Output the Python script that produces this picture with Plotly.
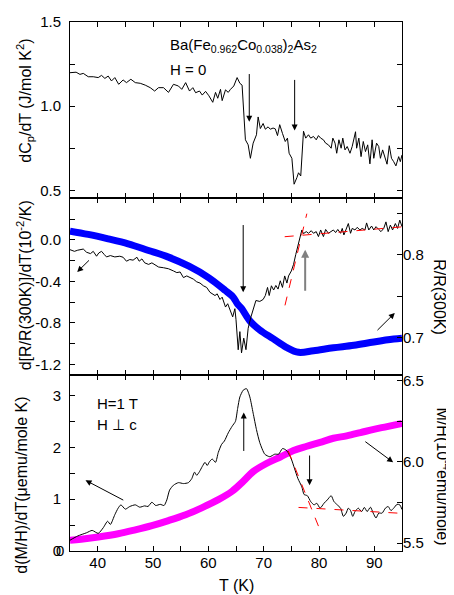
import plotly.graph_objects as go

# ─── data ────────────────────────────────────────────────────────────────────
# top panel: dCp/dT, H = 0
cp_T = [35.0, 36.1, 36.8, 37.4, 38.3, 39.2, 40.1, 40.7, 41.3, 41.9,
        42.5, 43.1, 43.8, 44.6, 45.2, 46.0, 46.8, 47.7, 48.6, 49.5,
        50.3, 51.0, 51.9, 52.8, 53.7, 54.6, 55.2, 55.9, 56.6, 57.2,
        57.7, 58.4, 58.9, 59.5, 60.1, 60.8, 61.3, 61.7, 62.2, 62.5,
        63.1, 63.6, 64.0, 64.6, 65.2, 65.7, 66.1, 66.7, 67.2, 67.6,
        68.1, 68.7, 69.0, 69.4, 69.9, 70.3, 70.8, 71.2, 71.7, 72.1,
        72.5, 72.9, 73.4, 73.9, 74.3, 74.6, 75.1, 75.5, 76.0, 76.3,
        76.7, 77.2, 77.6, 78.1, 78.5, 79.0, 79.5, 79.9, 80.3, 80.8,
        81.2, 81.7, 82.2, 82.5, 82.9, 83.2, 83.6, 84.0, 84.3, 84.7,
        85.1, 85.6, 86.0, 86.6, 86.8, 87.2, 87.6, 88.0, 88.4, 88.8,
        89.2, 89.6, 89.9, 90.4, 90.8, 91.1, 91.5, 91.8, 92.3, 92.7,
        93.1, 93.5, 93.9, 94.4, 94.7, 95.0]
cp_val = [1.199, 1.202, 1.189, 1.195, 1.175, 1.175, 1.170, 1.183, 1.165, 1.179,
          1.150, 1.170, 1.130, 1.156, 1.140, 1.160, 1.140, 1.136, 1.125, 1.110,
          1.090, 1.110, 1.110, 1.082, 1.130, 1.120, 1.100, 1.140, 1.090, 1.110,
          1.080, 1.090, 1.066, 1.088, 1.062, 1.023, 1.082, 1.047, 1.100, 1.033,
          1.097, 1.082, 1.100, 1.120, 1.170, 1.136, 1.125, 0.800, 0.770, 0.690,
          0.780, 0.830, 0.936, 0.867, 0.897, 0.863, 0.877, 0.863, 0.870, 0.865,
          0.825, 0.890, 0.838, 0.790, 0.810, 0.720, 0.690, 0.536, 0.575, 0.604,
          0.585, 0.851, 0.810, 0.830, 0.810, 0.820, 0.800, 0.825, 0.810, 0.800,
          0.780, 0.770, 0.750, 0.810, 0.780, 0.720, 0.800, 0.750, 0.810, 0.740,
          0.760, 0.720, 0.760, 0.848, 0.750, 0.810, 0.700, 0.790, 0.730, 0.770,
          0.657, 0.800, 0.690, 0.780, 0.760, 0.690, 0.740, 0.710, 0.655, 0.765,
          0.690, 0.670, 0.645, 0.700, 0.670, 0.710]

# middle panel: R/R(300K) and its derivative
r_T = [35.0, 38.3, 41.9, 45.5, 49.2, 52.8, 56.5, 60.1, 63.1, 64.5, 65.2, 66.0,
       67.5, 69.3, 71.7, 74.1, 76.3, 79.0, 82.6, 86.3, 89.9, 93.5, 95.0]
r_val = [0.8284, 0.8244, 0.8190, 0.8130, 0.8050, 0.7970, 0.7860, 0.7720,
         0.7565, 0.7486, 0.7410, 0.7350, 0.7200, 0.7090, 0.6985, 0.6880,
         0.6820, 0.6840, 0.6875, 0.6905, 0.6945, 0.6980, 0.6990]

dr_T = [35.0, 35.8, 36.4, 37.4, 38.0, 38.7, 39.2, 39.8, 40.2, 40.7,
        41.2, 41.6, 42.3, 43.1, 44.0, 44.6, 45.2, 45.8, 46.4, 47.1,
        47.5, 48.0, 48.5, 49.2, 49.8, 50.4, 51.0, 51.9, 52.8, 53.7,
        54.3, 54.9, 55.5, 56.1, 56.7, 57.3, 57.9, 58.5, 59.1, 59.7,
        60.3, 60.7, 61.2, 61.6, 62.1, 62.5, 63.1, 63.5, 64.0, 64.4,
        64.8, 65.0, 65.4, 65.7, 66.0, 66.4, 66.8, 67.2, 67.7, 68.2,
        68.6, 69.3, 69.9, 70.3, 70.7, 71.0, 71.4, 71.8, 72.2, 72.6,
        73.0, 73.4, 73.8, 74.2, 74.5, 75.0, 75.4, 75.8, 76.2, 76.7,
        76.9, 77.2, 77.7, 78.1, 78.6, 79.0, 79.5, 79.9, 80.3, 80.8,
        81.2, 81.7, 82.1, 82.6, 83.0, 83.4, 83.9, 84.2, 84.5, 84.9,
        85.3, 85.7, 86.0, 86.5, 86.9, 87.4, 87.8, 88.3, 88.6, 89.0,
        89.5, 89.9, 90.3, 90.8, 91.2, 91.7, 92.1, 92.5, 92.9, 93.3,
        93.8, 94.2, 94.6, 95.0]
dr_val = [-0.095, -0.111, -0.100, -0.089, -0.120, -0.133, -0.111, -0.158, -0.127, -0.111,
          -0.142, -0.165, -0.152, -0.165, -0.158, -0.168, -0.206, -0.190, -0.196, -0.168,
          -0.206, -0.184, -0.222, -0.237, -0.222, -0.246, -0.262, -0.269, -0.279, -0.300,
          -0.316, -0.310, -0.364, -0.348, -0.364, -0.379, -0.405, -0.417, -0.443, -0.459,
          -0.506, -0.521, -0.537, -0.521, -0.575, -0.553, -0.648, -0.616, -0.696, -0.743,
          -0.664, -0.770, -1.060, -0.885, -1.090, -0.948, -1.059, -0.853, -0.743, -0.664,
          -0.585, -0.594, -0.575, -0.537, -0.459, -0.537, -0.443, -0.484, -0.440, -0.475,
          -0.395, -0.459, -0.348, -0.417, -0.348, -0.300, -0.237, -0.142, -0.047, 0.063,
          0.095, 0.060, 0.079, 0.063, 0.088, 0.063, 0.079, 0.031, 0.095, 0.031,
          0.100, 0.063, 0.079, 0.095, 0.070, 0.100, 0.063, 0.110, 0.047, 0.110,
          0.157, 0.063, 0.110, 0.095, 0.120, 0.095, 0.110, 0.095, 0.163, 0.095,
          0.133, 0.095, 0.127, 0.100, 0.079, 0.110, 0.173, 0.079, 0.142, 0.095,
          0.157, 0.110, 0.190, 0.127]

dr_fit1_T = [73.85, 77.8]
dr_fit1_v = [-0.632, 0.252]
dr_fit2_T = [73.8, 95.0]
dr_fit2_v = [0.030, 0.125]

# bottom panel: M/H and its derivative, H = 1 T
mh_T = [35.0, 37.0, 40.1, 43.7, 46.8, 49.8, 52.8, 55.9, 58.9, 61.9, 64.3, 66.3,
        68.1, 70.5, 73.0, 75.4, 77.8, 80.2, 82.6, 85.0, 87.5, 89.9, 92.3, 95.0]
mh_val = [5.518, 5.524, 5.538, 5.558, 5.582, 5.608, 5.639, 5.675, 5.719, 5.769,
          5.819, 5.880, 5.940, 5.990, 6.030, 6.070, 6.096, 6.120, 6.145, 6.160,
          6.180, 6.200, 6.217, 6.237]

dm_T = [35.0, 36.4, 38.0, 39.0, 40.1, 41.0, 41.8, 42.3, 43.1, 43.7,
        44.2, 45.0, 45.8, 46.8, 47.6, 48.5, 49.1, 49.8, 50.5, 51.3,
        52.0, 52.5, 53.0, 53.7, 54.6, 55.5, 56.4, 57.0, 57.5, 57.9,
        58.4, 58.9, 59.4, 59.8, 60.2, 60.7, 61.3, 61.8, 62.4, 62.9,
        63.6, 64.3, 64.9, 65.3, 65.7, 66.3, 66.9, 67.5, 68.1, 68.7,
        69.3, 70.2, 71.1, 72.0, 72.7, 73.4, 74.0, 74.4, 75.0, 75.6,
        76.2, 76.9, 77.3, 77.9, 78.5, 79.1, 79.6, 80.2, 80.9, 81.5,
        82.2, 82.7, 83.3, 83.9, 84.4, 84.9, 85.3, 85.7, 86.1, 86.5,
        87.1, 87.7, 88.2, 88.7, 89.3, 89.8, 90.3, 90.8, 91.4, 92.0,
        92.5, 93.0, 93.5, 94.1, 94.6, 95.0]
dm_val = [0.208, 0.290, 0.352, 0.397, 0.340, 0.447, 0.574, 0.511, 0.700, 0.826,
          0.890, 0.807, 0.858, 0.890, 0.845, 0.870, 0.858, 0.940, 0.877, 0.900,
          0.877, 0.985, 1.174, 1.269, 1.318, 1.300, 1.318, 1.394, 1.520, 1.460,
          1.530, 1.629, 1.710, 1.650, 1.720, 1.773, 1.710, 1.900, 2.057, 2.120,
          2.278, 2.405, 2.500, 2.750, 2.970, 3.100, 3.130, 2.970, 2.657, 2.340,
          2.089, 1.867, 1.818, 1.867, 1.867, 1.975, 1.950, 1.900, 1.773, 1.583,
          1.394, 1.237, 1.090, 1.066, 0.953, 0.890, 0.920, 0.826, 0.920, 0.985,
          1.066, 0.953, 0.890, 0.826, 0.668, 0.730, 0.826, 0.780, 0.668, 0.760,
          0.826, 0.760, 0.840, 0.760, 0.845, 0.730, 0.636, 0.730, 0.730, 0.826,
          0.858, 0.780, 0.826, 0.900, 0.890, 0.800]

dm_fit1_T = [74.45, 80.2]
dm_fit1_v = [1.93, 0.40]
dm_fit2_T = [76.3, 94.3]
dm_fit2_v = [0.84, 0.73]

# labelled (major) ticks and unlabelled (minor) ticks
x_ticks = [40, 50, 60, 70, 80, 90]
x_minor = [35, 45, 55, 65, 75, 85, 95]
cp_ticks = [0.5, 1.0, 1.5]
cp_minor = [0.75, 1.25]
dr_ticks = [-1.2, -0.8, -0.4, 0.0]
dr_minor = [-1.0, -0.6, -0.2, 0.2, 0.4]
r_ticks = [0.7, 0.8]
r_minor = [0.75, 0.85]
dm_ticks = [0, 1, 2, 3]
dm_minor = [0.5, 1.5, 2.5]
mh_ticks = [5.5, 6.0, 6.5]
mh_minor = [5.75, 6.25]

# ──────────────────────────────────────────────────────────────────────────────
FONT = "Liberation Sans, Arial, sans-serif"
fig = go.Figure()

fig.add_trace(go.Scatter(x=cp_T, y=cp_val, mode="lines", xaxis="x", yaxis="y",
                         line=dict(color="black", width=1)))

fig.add_trace(go.Scatter(x=r_T, y=r_val, mode="lines", xaxis="x2", yaxis="y2",
                         line=dict(color="#0000ff", width=7, shape="spline")))
fig.add_trace(go.Scatter(x=dr_T, y=dr_val, mode="lines", xaxis="x2", yaxis="y3",
                         line=dict(color="black", width=1)))
for tx, ty in [(dr_fit1_T, dr_fit1_v), (dr_fit2_T, dr_fit2_v)]:
    fig.add_trace(go.Scatter(x=tx, y=ty, mode="lines", xaxis="x2", yaxis="y3",
                             line=dict(color="red", width=1, dash="dash")))

fig.add_trace(go.Scatter(x=mh_T, y=mh_val, mode="lines", xaxis="x3", yaxis="y4",
                         line=dict(color="#ff00ff", width=7, shape="spline")))
fig.add_trace(go.Scatter(x=dm_T, y=dm_val, mode="lines", xaxis="x3", yaxis="y5",
                         line=dict(color="black", width=1, shape="spline", smoothing=0.6)))
for tx, ty in [(dm_fit1_T, dm_fit1_v), (dm_fit2_T, dm_fit2_v)]:
    fig.add_trace(go.Scatter(x=tx, y=ty, mode="lines", xaxis="x3", yaxis="y5",
                             line=dict(color="red", width=1, dash="dash")))


def axis(ticks, minor, **kw):
    return dict(showline=True, linecolor="black", linewidth=1, ticks="inside",
                ticklen=5, tickwidth=1, tickcolor="black", showgrid=False,
                zeroline=False, tickmode="array", tickvals=ticks,
                ticktext=[("%d" % t) if isinstance(t, int) else ("%.1f" % t)
                          for t in ticks],
                minor=dict(tickmode="array", tickvals=minor, ticks="inside",
                           ticklen=5, tickwidth=1, tickcolor="black", showgrid=False),
                tickfont=dict(family=FONT, size=15, color="black"),
                ticklabeloverflow="allow", **kw)


x_kw = dict(range=[35, 95], mirror="ticks")

# the page body has an 8px margin, so the figure is 8px smaller than the window
fig.update_layout(
    width=446, height=587,
    margin=dict(l=62, r=52, t=5, b=44),
    paper_bgcolor="white", plot_bgcolor="white",
    showlegend=False,
    font=dict(family=FONT, size=15, color="black"),
    xaxis=axis(x_ticks, x_minor, anchor="y", showticklabels=False, **x_kw),
    xaxis2=axis(x_ticks, x_minor, anchor="y2", showticklabels=False, **x_kw),
    xaxis3=axis(x_ticks, x_minor, anchor="y4", ticklabelstandoff=-2, **x_kw),
    yaxis=axis(cp_ticks, cp_minor, domain=[2 / 3, 1], anchor="x",
               range=[0.452, 1.5005], mirror="ticks", ticklabelstandoff=5),
    yaxis2=axis(r_ticks, r_minor, domain=[1 / 3, 2 / 3], anchor="x2", side="right",
                range=[0.655, 0.868], ticklabelstandoff=-3),
    yaxis3=axis(dr_ticks, dr_minor, anchor="x2", overlaying="y2", side="left",
                range=[-1.3, 0.4], ticklabelstandoff=5),
    yaxis4=axis(mh_ticks, mh_minor, domain=[0, 1 / 3], anchor="x3", side="right",
                range=[5.452, 6.536], ticklabelstandoff=-3),
    yaxis5=axis(dm_ticks, dm_minor, anchor="x3", overlaying="y4", side="left",
                range=[0, 3.4], ticklabelstandoff=5),
)

# plotly drops the label sitting on the x axis line, so put the "0" back by hand
fig.add_annotation(text="0", xref="paper", yref="y5", x=-0.03, y=dm_ticks[0],
                   xanchor="center", yanchor="middle", showarrow=False,
                   font=dict(family=FONT, size=15))

# axis titles
titles = [
    ("dC<sub>p</sub>/dT (J/mol K<sup>2</sup>)", -0.136, 0.851, -90),
    ("d[R/R(300K)]/dT(10<sup>-2</sup>/K)", -0.136, 0.502, -90),
    ("d(M/H)/dT(\u03bcemu/mole K)", -0.145, 0.125, -90),
    ("R/R(300K)", 1.114, 0.480, 90),
    ("M/H(10<sup>-4</sup>emu/mole)", 1.123, 0.141, 90),
]
for txt, px, py, ang in titles:
    fig.add_annotation(text=txt, xref="paper", yref="paper", x=px, y=py,
                       textangle=ang, showarrow=False, xanchor="center",
                       yanchor="middle", font=dict(family=FONT, size=16))
fig.add_annotation(text="T (K)", xref="paper", yref="paper", x=0.502, y=-0.065,
                   xanchor="center", yanchor="middle", showarrow=False,
                   font=dict(family=FONT, size=16))

# labels inside the panels
fig.add_annotation(text="Ba(Fe<sub>0.962</sub>Co<sub>0.038</sub>)<sub>2</sub>As<sub>2</sub>",
                   xref="x", yref="y", x=52.7, y=1.358, xanchor="left",
                   showarrow=False, font=dict(family=FONT, size=15))
fig.add_annotation(text="H = 0", xref="x", yref="y", x=52.7, y=1.218,
                   xanchor="left", showarrow=False, font=dict(family=FONT, size=15))
fig.add_annotation(text="H=1 T", xref="x3", yref="y5", x=39.5, y=2.85,
                   xanchor="left", showarrow=False, font=dict(family=FONT, size=15))
fig.add_annotation(text="H \u22a5 c", xref="x3", yref="y5", x=39.5, y=2.44,
                   xanchor="left", showarrow=False, font=dict(family=FONT, size=15))

# arrows: (head x, head y, tail x, tail y, xref, yref, colour, width)
arrows = [
    (67.4, 0.908, 67.4, 1.20, "x", "y", "black", 1),
    (75.6, 0.856, 75.6, 1.165, "x", "y", "black", 1),
    (66.3, -0.506, 66.3, 0.157, "x2", "y3", "black", 1),
    (77.5, -0.095, 77.5, -0.506, "x2", "y3", "#808080", 2),
    (36.3, -0.31, 38.7, -0.184, "x2", "y3", "black", 1),
    (93.7, -0.705, 90.3, -0.885, "x2", "y3", "black", 1),
    (66.4, 2.67, 66.4, 1.90, "x3", "y5", "black", 1),
    (78.3, 1.27, 78.3, 1.87, "x3", "y5", "black", 1),
    (37.8, 1.364, 44.9, 0.966, "x3", "y5", "black", 1),
    (93.4, 1.71, 88.1, 2.13, "x3", "y5", "black", 1),
]
for hx, hy, tx, ty, xr, yr, col, w in arrows:
    fig.add_annotation(x=hx, y=hy, ax=tx, ay=ty, xref=xr, yref=yr, axref=xr,
                       ayref=yr, text="", showarrow=True, arrowhead=2,
                       arrowsize=1.2 if w == 1 else 0.8, arrowwidth=w,
                       arrowcolor=col)

fig.write_html("out.html")
